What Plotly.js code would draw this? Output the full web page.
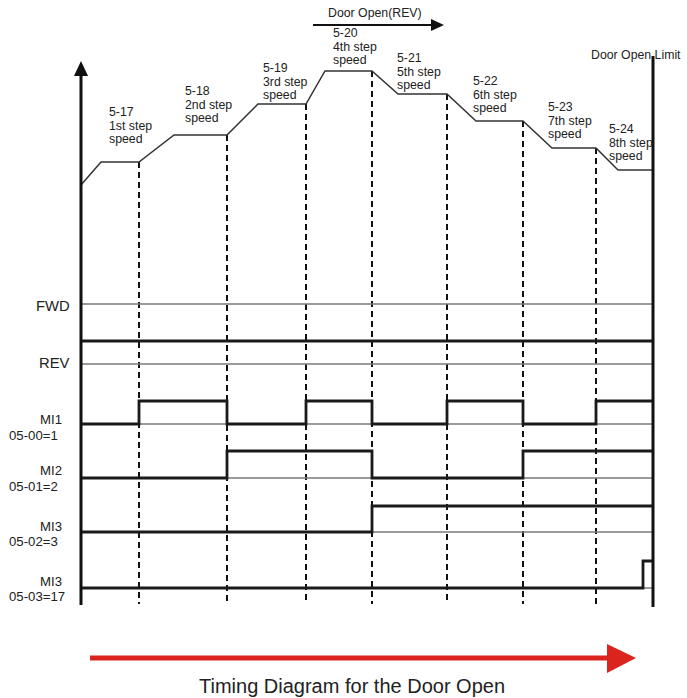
<!DOCTYPE html>
<html><head><meta charset="utf-8">
<script src="https://cdn.plot.ly/plotly-3.0.1.min.js"></script>
<style>html,body{margin:0;padding:0;background:#fff}</style>
</head><body><div id="chart" style="width:687px;height:698px"></div>
<script>
// ---------- DATA ----------
// Speed profile (time in arbitrary units, speed in arbitrary units)
const speedTime  = [0, 20, 58, 93, 146, 177, 225, 244, 291, 317, 366, 395, 442, 471, 515, 537, 572];
const speedValue = [15, 38, 38, 65, 65, 96, 96, 129, 129, 106, 106, 79, 79, 52, 52, 30, 30];
// Step speed labels
const stepParams = ["5-17", "5-18", "5-19", "5-20", "5-21", "5-22", "5-23", "5-24"];
const stepNames  = ["1st step", "2nd step", "3rd step", "4th step", "5th step", "6th step", "7th step", "8th step"];
// Multi-step switching instants and the door-open-limit instant
const switchTimes = [58, 146, 225, 291, 366, 442, 515];
const limitTime = 572;
// Digital signals: edge times and state after each edge (0 = low, 1 = high)
const fwdTimes  = [0, 572];                              const fwdState  = [0, 0];
const revTimes  = [0, 572];                              const revState  = [1, 1];
const mi1Times  = [0, 58, 146, 225, 291, 366, 442, 515, 572]; const mi1State = [0, 1, 0, 1, 0, 1, 0, 1, 1];
const mi2Times  = [0, 146, 291, 442, 572];               const mi2State  = [0, 1, 0, 1, 1];
const mi3Times  = [0, 291, 572];                         const mi3State  = [0, 1, 1];
const mi3bTimes = [0, 562, 572];                         const mi3bState = [0, 1, 1];
const signalLabels = [["FWD"], ["REV"], ["MI1", "05-00=1"], ["MI2", "05-01=2"], ["MI3", "05-02=3"], ["MI3", "05-03=17"]];
const titleText = "Timing Diagram for the Door Open";
const doorOpenText = "Door Open(REV)";
const limitText = "Door Open Limit";

// ---------- LAYOUT / STYLE ----------
const FONT = "Arial, 'Liberation Sans', sans-serif";
const TXT = "#222";
const laneBase = [304, 364, 424, 478, 532, 588];   // lane axis (y2) positions
const laneHigh = [23, 23, 23, 27, 26, 27];
const laneBottom = 605;
const signals = [
  [fwdTimes, fwdState], [revTimes, revState], [mi1Times, mi1State],
  [mi2Times, mi2State], [mi3Times, mi3State], [mi3bTimes, mi3bState]
];

const traces = [];
// gray baselines
laneBase.forEach((b, i) => {
  traces.push({x: [0, limitTime], y: [b, b], xaxis: 'x', yaxis: 'y2', mode: 'lines',
    line: {color: '#7a7a7a', width: 1.6}, hoverinfo: 'skip', showlegend: false});
});
// waveforms (FWD is low throughout -> drawn only as baseline)
signals.forEach((s, i) => {
  if (i === 0) return;
  const [t, st] = s;
  traces.push({x: t, y: st.map(v => laneBase[i] - v * laneHigh[i]), xaxis: 'x', yaxis: 'y2',
    mode: 'lines', line: {color: '#1a1a1a', width: 2.8, shape: 'hv'}, hoverinfo: 'skip', showlegend: false});
});
// dashed switching lines (from speed plateau down)
const BOTTOM_SPEED = -404;
switchTimes.forEach(t => {
  const v = speedValue[speedTime.indexOf(t)];
  traces.push({x: [t, t], y: [v, BOTTOM_SPEED], xaxis: 'x', yaxis: 'y', mode: 'lines',
    line: {color: '#111', width: 2, dash: '6px,4px'}, hoverinfo: 'skip', showlegend: false});
});
// speed profile
traces.push({x: speedTime, y: speedValue, xaxis: 'x', yaxis: 'y', mode: 'lines',
  line: {color: '#333', width: 1.5}, hoverinfo: 'skip', showlegend: false});

// annotations
const ann = [];
const labelLeft = [26, 102, 180, 250, 314, 390, 465, 526];
const labelTop  = [112, 91, 68, 33, 58, 81, 107, 129];
stepParams.forEach((p, i) => {
  [p, stepNames[i], "speed"].forEach((line, k) => {
    ann.push({x: labelLeft[i], y: labelTop[i] + k * 13.5, xref: 'x', yref: 'y2', text: line,
      showarrow: false, xanchor: 'left', yanchor: 'middle', font: {family: FONT, size: 12.3, color: TXT}});
  });
});
// signal labels
const sigY = [[306], [363], [419, 435], [470.5, 486], [526, 541.5], [581, 596.5]];
signalLabels.forEach((lines, i) => {
  lines.forEach((line, k) => {
    const big = (i < 2);
    const isCode = (k === 1);
    ann.push({x: isCode ? -74 : (big ? -9 : -30), y: sigY[i][k], xref: 'x', yref: 'y2', text: line,
      showarrow: false, xanchor: isCode ? 'left' : (big ? 'right' : 'center'), yanchor: 'middle',
      font: {family: FONT, size: big ? 14.8 : 13.2, color: TXT}});
  });
});
ann.push({x: 245, y: 13, xref: 'x', yref: 'y2', text: doorOpenText, showarrow: false,
  xanchor: 'left', yanchor: 'middle', font: {family: FONT, size: 12.3, color: TXT}});
ann.push({x: 602, y: 55, xref: 'x', yref: 'y2', text: limitText, showarrow: false,
  xanchor: 'right', yanchor: 'middle', font: {family: FONT, size: 12.3, color: TXT}});
ann.push({x: 271, y: 686, xref: 'x', yref: 'y2', text: titleText, showarrow: false,
  xanchor: 'center', yanchor: 'middle', font: {family: FONT, size: 20, color: TXT}});

// shapes
const shapes = [
  // y-axis line and arrowhead
  {type: 'line', xref: 'x', yref: 'y2', x0: 0, x1: 0, y0: laneBottom, y1: 74, line: {color: '#111', width: 3}},
  {type: 'path', xref: 'x', yref: 'y2', path: 'M -7 76 L 7 76 L 0 61 Z', fillcolor: '#111', line: {width: 0}},
  // door open limit line
  {type: 'line', xref: 'x', yref: 'y2', x0: limitTime, x1: limitTime, y0: 607, y1: 56, line: {color: '#111', width: 3}},
  // Door Open (REV) arrow
  {type: 'line', xref: 'x', yref: 'y2', x0: 232, x1: 352, y0: 25, y1: 25, line: {color: '#111', width: 2.2}},
  {type: 'path', xref: 'x', yref: 'y2', path: 'M 350 19 L 350 31 L 363 25 Z', fillcolor: '#111', line: {width: 0}},
  // red time arrow
  {type: 'line', xref: 'x', yref: 'y2', x0: 9, x1: 528, y0: 658, y1: 658, line: {color: '#dc241f', width: 5}},
  {type: 'path', xref: 'x', yref: 'y2', path: 'M 526 644 L 526 673 L 555 658 Z', fillcolor: '#dc241f', line: {width: 0}}
];

const hidden = {visible: false, showgrid: false, zeroline: false, fixedrange: true};
const layout = {
  width: 687, height: 698, margin: {l: 0, r: 0, t: 0, b: 0},
  paper_bgcolor: '#fff', plot_bgcolor: '#fff', showlegend: false,
  xaxis: Object.assign({range: [-81, 606], domain: [0, 1]}, hidden),
  yaxis: Object.assign({range: [-498, 200], domain: [0, 1]}, hidden),
  yaxis2: Object.assign({range: [698, 0], domain: [0, 1], overlaying: 'y'}, hidden),
  annotations: ann, shapes: shapes
};
Plotly.newPlot('chart', traces, layout, {displayModeBar: false, staticPlot: true});
</script></body></html>
